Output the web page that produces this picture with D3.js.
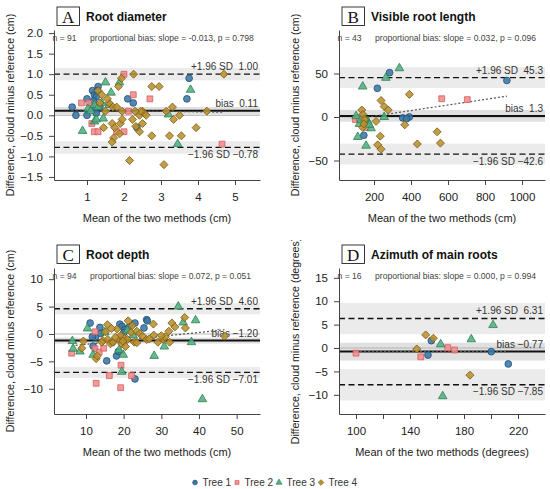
<!DOCTYPE html>
<html>
<head>
<meta charset="utf-8">
<script src="https://cdn.jsdelivr.net/npm/d3@7"></script>
<style>
  body { margin: 0; background: #fff; }
  svg { display: block; font-family: "Liberation Sans", Arial, sans-serif; }
  .pre { white-space: pre; }
</style>
</head>
<body>
<svg id="chart" width="550" height="489"></svg>
<script>
// ---- data (mean of the two methods, cloud minus reference) ----
const diameterTree1 = [[0.6,0.2],[0.7,0.0],[1.0,0.4],[1.0,0.0],[1.12,0.3],[1.15,0.6],[1.2,0.5],[1.25,0.45],[1.3,0.7],[1.18,0.35],[1.22,0.15],[1.25,0.05],[1.35,0.2],[1.28,0.6],[2.1,0.4],[2.25,0.3],[2.35,-0.3],[3.7,0.4],[3.76,0.9]];
const diameterTree2 = [[0.85,0.3],[1.05,0.3],[1.13,-0.2],[1.2,-0.4],[1.3,-0.4],[1.8,-0.4],[2.0,-0.4],[2.0,1.0],[2.12,0.1],[2.25,0.5],[2.7,0.4],[4.65,-0.7]];
const diameterTree3 = [[0.88,-0.38],[1.02,0.15],[1.1,0.1],[1.2,0.25],[1.2,-0.15],[1.25,-0.1],[1.3,0.2],[1.4,0.3],[1.44,-0.08],[1.5,0.8],[1.6,0.25],[1.65,0.55],[1.88,0.8],[3.2,0.02],[3.45,-0.7],[3.8,0.62]];
const diameterTree4 = [[1.3,0.6],[1.4,0.5],[1.35,0.3],[1.45,-0.3],[1.6,0.3],[1.7,0.2],[1.8,0.2],[1.68,-0.2],[1.9,-0.2],[1.88,-0.45],[1.72,-0.55],[1.68,-0.65],[1.85,0.7],[1.93,0.9],[1.95,0.1],[1.95,-0.1],[2.15,-1.1],[2.26,1.0],[2.23,-0.1],[2.32,-0.27],[2.42,-0.4],[2.5,-0.2],[2.5,0.1],[2.42,0.0],[2.55,0.05],[2.45,0.1],[2.3,0.1],[2.75,0.7],[2.95,0.7],[2.75,-0.5],[3.08,-1.2],[3.14,0.1],[3.23,-0.5],[3.31,0.2],[3.34,-0.1],[3.5,0.0],[3.55,-0.5],[3.95,-0.3],[4.24,0.1],[4.7,1.0],[1.5,0.1],[1.75,-0.3],[2.6,0.0],[1.55,0.4]];

const lengthTree1 = [[284,51],[218,33],[145,-21],[355,-1],[391,0],[375,-2],[918,42],[160,-5]];
const lengthTree2 = [[566,21],[704,20],[100,-3],[157,-12],[120,-1]];
const lengthTree3 = [[103,1],[139,35],[112,-23],[157,-33],[184,-13],[255,0],[264,45],[337,56],[121,-8],[166,-5],[150,-2],[130,-3],[175,-9]];
const lengthTree4 = [[134,8],[140,3],[139,-12],[150,-3],[211,-5],[238,19],[255,12],[277,8],[234,-22],[220,-32],[238,-37],[366,-9],[391,26],[434,-31],[541,-17],[559,-30],[145,-8]];

const depthTree1 = [[11.1,2.0],[12.5,-0.6],[13.7,1.2],[13.9,0.1],[11.7,-0.5],[11.9,-2.2],[15.5,-4.9],[18.1,-4.0],[19,1.8],[19.6,1.4],[20.3,0.8],[21.5,1.3],[23,2.0],[23,-8.2],[25.4,1.1],[26.1,2.6],[26.3,2.4],[18.6,-3.2],[20,0.2],[17,-1.5]];
const depthTree2 = [[6.2,-3.5],[12.4,0.4],[12.4,-2.7],[13.5,-3.3],[14.7,-2.6],[12.7,-9.0],[16.2,-7.6],[19.3,-5.7],[19.2,-9.8],[22.1,-7.6],[20,-1.0],[19.5,-0.5]];
const depthTree3 = [[6.4,-1.3],[6.6,-2.7],[8.4,-3.2],[10.4,1.0],[11.9,-3.8],[19.9,-3.8],[19.5,-6.9],[18.8,-2.9],[21,0.6],[28.1,-4.0],[30.8,-2.3],[34.5,5.0],[35.8,2.1],[39.1,2.5],[38,-1.5],[40.9,-11.9],[15,0.3],[22.5,-0.2]];
const depthTree4 = [[8.9,-2.6],[9.3,-1.3],[12.7,-4.5],[13,-4.0],[14.5,-1.2],[15.2,0.4],[15.7,1.7],[14.2,-1.5],[15.8,-1.0],[16.5,-1.8],[17.2,-1.5],[18.2,0.9],[18.8,-1.1],[19.2,-0.3],[19.5,-1.8],[20.2,-0.8],[20.5,-2.3],[21,-1.0],[19.8,-1.3],[21.2,2.4],[22,0.3],[22.8,-1.5],[23.5,0.5],[24.3,0.1],[25,-0.4],[26.1,-1.0],[27.9,1.8],[28,-0.2],[29.1,-1.5],[30.5,-1.0],[31,-0.5],[32,0.5],[32.2,-1.5],[32.8,2.0],[33.6,1.3],[36.2,3.0],[36.4,1.1],[46.8,-0.4],[17.8,-0.6],[22.3,1.5],[23.5,-1.6],[16.8,1.0],[30,-0.3],[26.8,-0.9]];

const azimuthTree1 = [[155.8,1.57],[153.3,-1.5],[200.2,-0.78],[212.8,-3.4]];
const azimuthTree2 = [[100,-1.1],[148,-1.9],[168,0.07],[173,-0.43]];
const azimuthTree3 = [[162.7,0.8],[185.4,1.86],[201.5,4.9],[164.2,-10.3]];
const azimuthTree4 = [[151.6,2.8],[157.3,2.1],[145,-0.2],[184.4,-5.8]];

const trees = ["Tree 1", "Tree 2", "Tree 3", "Tree 4"];
const panelLetters = ["A", "B", "C", "D"];
const panelTitles = ["Root diameter", "Visible root length", "Root depth", "Azimuth of main roots"];
const xTitles = ["Mean of the two methods (cm)", "Mean of the two methods (cm)", "Mean of the two methods (cm)", "Mean of the two methods (degrees)"];
const yTitles = ["Difference, cloud minus reference (cm)", "Difference, cloud minus reference (cm)", "Difference, cloud minus reference (cm)", "Difference, cloud minus reference (degrees)"];
const nValues = [91, 43, 94, 16];
const slopeValues = [-0.013, 0.032, 0.072, 0.000];
const pValues = [0.798, 0.096, 0.051, 0.994];
const biasValues = [0.11, 1.3, -1.20, -0.77];
const upperLoA = [1.00, 45.3, 4.60, 6.31];
const lowerLoA = [-0.78, -42.6, -7.01, -7.85];
const loaHalfCI = [0.15, 12, 1.0, 3.35];
const biasHalfCI = [0.09, 6.7, 0.55, 1.9];
const regIntercepts = [0.137, -5.4, -2.6, -0.77];
const statDigits = [2, 1, 2, 2];
const xDomains = [[0.108, 5.676], [10.8, 1124], [1.51, 56.2], [87.4, 240]];
const yDomains = [[-1.574, 2.075], [-72.4, 100], [-14.6, 12.04], [-14.1, 17.1]];
const xTicks = [[1, 2, 3, 4, 5], [200, 400, 600, 800, 1000], [10, 20, 30, 40, 50], [100, 120, 140, 160, 180, 200, 220]];
const xTickLabels = [null, null, null, [100, 140, 180, 220]];
const yTicks = [[-1.5, -1, -0.5, 0, 0.5, 1, 1.5, 2], [-50, 0, 50], [-10, -5, 0, 5, 10], [-10, -5, 0, 5, 10, 15]];
const yTickFormats = [".1f", "d", "d", "d"];

const panelPoints = [
  [diameterTree1, diameterTree2, diameterTree3, diameterTree4],
  [lengthTree1, lengthTree2, lengthTree3, lengthTree4],
  [depthTree1, depthTree2, depthTree3, depthTree4],
  [azimuthTree1, azimuthTree2, azimuthTree3, azimuthTree4],
];

// ---- styles / layout ----
const treeFill = ["#3b78a6", "#f08c8c", "#52b080", "#b9912f"];
const treeStroke = ["#1f5075", "#d45f5f", "#2f7f56", "#7c5f17"];
const treeSymbol = [d3.symbolCircle, d3.symbolSquare, d3.symbolTriangle, d3.symbolSquare];
const treeRotate = [0, 0, 0, 45];
const treeSize = [36, 34, 32, 32];

const plots = [
  { x0: 54, x1: 260, y0: 30, y1: 180, clipTop: 0, clipBottom: 240 },
  { x0: 339, x1: 545, y0: 30, y1: 180, clipTop: 0, clipBottom: 240 },
  { x0: 54, x1: 260, y0: 268, y1: 414, clipTop: 240, clipBottom: 489 },
  { x0: 339, x1: 545, y0: 268, y1: 414, clipTop: 240, clipBottom: 489 },
];

const svg = d3.select("#chart");
const defs = svg.append("defs");
const textColor = "#333";

function fmtStat(v, digits) {
  return (v < 0 ? "\u2212" : " ") + Math.abs(v).toFixed(digits);
}

function symbolPath(t) {
  return d3.symbol().type(treeSymbol[t]).size(treeSize[t])();
}

function drawPanel(i) {
  const r = plots[i];
  const x = d3.scaleLinear().domain(xDomains[i]).range([r.x0, r.x1]);
  const y = d3.scaleLinear().domain(yDomains[i]).range([r.y1, r.y0]);
  const g = svg.append("g").attr("class", "panel-" + i);

  // confidence bands
  const bands = [
    [upperLoA[i] - loaHalfCI[i], upperLoA[i] + loaHalfCI[i], "#ebebeb"],
    [biasValues[i] - biasHalfCI[i], biasValues[i] + biasHalfCI[i], "#e0e0e0"],
    [lowerLoA[i] - loaHalfCI[i], lowerLoA[i] + loaHalfCI[i], "#ebebeb"],
  ];
  g.selectAll("rect.band")
    .data(bands)
    .enter()
    .append("rect")
    .attr("class", "band")
    .attr("x", r.x0)
    .attr("width", r.x1 - r.x0)
    .attr("y", (d) => Math.max(r.y0, y(d[1])))
    .attr("height", (d) => y(d[0]) - Math.max(r.y0, y(d[1])))
    .attr("fill", (d) => d[2]);

  // zero reference
  g.append("line")
    .attr("x1", r.x0).attr("x2", r.x1)
    .attr("y1", y(0)).attr("y2", y(0))
    .attr("stroke", "#b5b5b5").attr("stroke-width", 1);

  // limits of agreement
  [upperLoA[i], lowerLoA[i]].forEach((v) => {
    g.append("line")
      .attr("x1", r.x0).attr("x2", r.x1)
      .attr("y1", y(v)).attr("y2", y(v))
      .attr("stroke", "#111").attr("stroke-width", 1.3)
      .attr("stroke-dasharray", "6,3.5");
  });
  g.append("line")
    .attr("x1", r.x0).attr("x2", r.x1)
    .attr("y1", y(biasValues[i])).attr("y2", y(biasValues[i]))
    .attr("stroke", "#111").attr("stroke-width", 2);

  // proportional bias (regression) line
  const allPts = panelPoints[i].flat();
  const xr = d3.extent(allPts, (d) => d[0]);
  g.append("line")
    .attr("x1", x(xr[0])).attr("x2", x(xr[1]))
    .attr("y1", y(regIntercepts[i] + slopeValues[i] * xr[0]))
    .attr("y2", y(regIntercepts[i] + slopeValues[i] * xr[1]))
    .attr("stroke", "#555").attr("stroke-width", 1.2)
    .attr("stroke-dasharray", "2,2");

  // line labels
  const lab = g.append("g")
    .attr("font-size", "10px")
    .attr("fill", textColor)
    .attr("text-anchor", "end");
  lab.append("text").attr("class", "pre")
    .attr("x", r.x1 - 2).attr("y", y(upperLoA[i]) - 4)
    .text("+1.96 SD " + fmtStat(upperLoA[i], statDigits[i]));
  lab.append("text").attr("class", "pre")
    .attr("x", r.x1 - 2).attr("y", y(biasValues[i]) - 3.5)
    .text("bias " + fmtStat(biasValues[i], statDigits[i]));
  lab.append("text").attr("class", "pre")
    .attr("x", r.x1 - 2).attr("y", y(lowerLoA[i]) + 10.5)
    .text("\u22121.96 SD " + fmtStat(lowerLoA[i], statDigits[i]));

  // points
  panelPoints[i].forEach((pts, t) => {
    g.append("g")
      .selectAll("path")
      .data(pts)
      .enter()
      .append("path")
      .attr("d", symbolPath(t))
      .attr("transform", (d) => `translate(${x(d[0])},${y(d[1])}) rotate(${treeRotate[t]})`)
      .attr("fill", treeFill[t])
      .attr("fill-opacity", 0.88)
      .attr("stroke", treeStroke[t])
      .attr("stroke-width", 0.8);
  });

  // top annotation
  const ann = g.append("g").attr("font-size", "8.6px").attr("fill", "#444");
  ann.append("text").attr("x", r.x0 - 1.5).attr("y", r.y0 + 10.5).text(`n = ${nValues[i]}`);
  ann.append("text").attr("x", r.x0 + 36).attr("y", r.y0 + 10.5)
    .text(`proportional bias: slope = ${slopeValues[i].toFixed(3)}, p = ${pValues[i].toFixed(3)}`);

  // axes
  const yAxis = d3.axisLeft(y)
    .tickValues(yTicks[i])
    .tickFormat(d3.format(yTickFormats[i]))
    .tickSize(5).tickSizeOuter(0).tickPadding(6);
  const xLabelSet = xTickLabels[i];
  const xAxis = d3.axisBottom(x)
    .tickValues(xTicks[i])
    .tickFormat((d) => (xLabelSet && !xLabelSet.includes(d) ? "" : d3.format("d")(d)))
    .tickSize(5).tickSizeOuter(0).tickPadding(8);

  const ya = g.append("g").attr("transform", `translate(${r.x0},0)`).call(yAxis);
  const xa = g.append("g").attr("transform", `translate(0,${r.y1})`).call(xAxis);
  [ya, xa].forEach((a) => {
    a.attr("font-family", null).attr("font-size", "11.5px");
    a.select(".domain").attr("stroke", "#444");
    a.selectAll(".tick line").attr("stroke", "#444");
    a.selectAll(".tick text").attr("fill", "#222");
  });

  // axis titles
  g.append("text")
    .attr("x", (r.x0 + r.x1) / 2).attr("y", r.y1 + 42)
    .attr("text-anchor", "middle").attr("font-size", "11px").attr("fill", "#222")
    .text(xTitles[i]);

  defs.append("clipPath").attr("id", "clip-" + i)
    .append("rect")
    .attr("x", 0).attr("width", 550)
    .attr("y", r.clipTop).attr("height", r.clipBottom - r.clipTop);
  g.append("g").attr("clip-path", `url(#clip-${i})`)
    .append("text")
    .attr("transform", `translate(${r.x0 - 44},${(r.y0 + r.y1) / 2}) rotate(-90)`)
    .attr("dy", "0.35em")
    .attr("text-anchor", "middle").attr("font-size", "10.6px").attr("fill", "#222")
    .text(yTitles[i]);

  // panel letter box + title
  const ty = r.y0 - 13;
  g.append("rect")
    .attr("x", r.x0 + 3).attr("y", ty - 10)
    .attr("width", 22.5).attr("height", 18.5)
    .attr("fill", "#fff").attr("stroke", "#222").attr("stroke-width", 0.9);
  g.append("text")
    .attr("x", r.x0 + 14.2).attr("y", ty + 5.5)
    .attr("text-anchor", "middle")
    .attr("font-family", "'Liberation Serif', 'DejaVu Serif', serif")
    .attr("font-size", "17px").attr("fill", "#111")
    .text(panelLetters[i]);
  g.append("text")
    .attr("x", r.x0 + 32).attr("y", ty + 4)
    .attr("font-size", "12px").attr("font-weight", "bold").attr("fill", "#111")
    .text(panelTitles[i]);
}

d3.range(4).forEach(drawPanel);

// legend
const legendX = [195, 237, 279, 321];
const legend = svg.append("g").attr("font-size", "10px").attr("fill", "#333");
trees.forEach((name, t) => {
  legend.append("path")
    .attr("d", d3.symbol().type(treeSymbol[t]).size(treeSize[t] * 0.5)())
    .attr("transform", `translate(${legendX[t]},482.5) rotate(${treeRotate[t]})`)
    .attr("fill", treeFill[t])
    .attr("stroke", treeStroke[t])
    .attr("stroke-width", 0.6);
  legend.append("text")
    .attr("x", legendX[t] + 7.5).attr("y", 486)
    .text(name);
});
</script>
</body>
</html>
